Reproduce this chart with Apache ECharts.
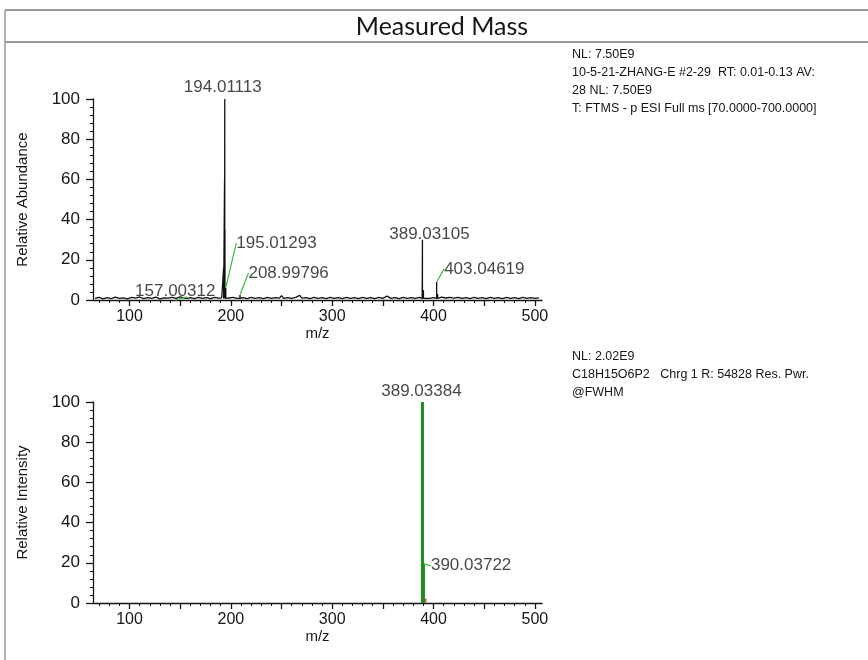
<!DOCTYPE html>
<html>
<head>
<meta charset="utf-8">
<script src="https://cdn.jsdelivr.net/npm/echarts@6/dist/echarts.min.js"></script>
<style>
  html, body { margin: 0; padding: 0; background: #fff; }
  #chart { width: 868px; height: 660px; }
</style>
</head>
<body>
<div id="chart"></div>
<script>
// ---- Measured spectrum (upper panel) ----
// baseline noise, [m/z, relative abundance]
const baselineTop = [
  [66,0.8],[70,1.3],[74,0.6],[78,1.2],[82,0.7],[86,1.4],[90,0.8],[94,1.1],[98,0.6],[102,1.3],
  [106,0.9],[110,1.5],[114,0.7],[118,1.2],[122,0.8],[126,1.4],[130,0.6],[134,1.1],[138,0.9],[142,1.3],
  [146,0.8],[150,1.6],[154,1.0],[160,1.2],[164,0.7],[168,1.3],[172,0.8],[176,1.2],[180,0.7],[184,1.3],
  [188,0.9],[191,1.1],[198,1.0],[202,1.3],[206,0.8],[212,1.2],[216,0.7],[220,1.3],[224,0.8],[228,1.2],
  [232,0.7],[236,1.3],[240,0.8],[244,1.2],[248,0.9],[250,2.2],[252,0.8],[256,1.2],[260,0.8],[264,1.3],
  [268,2.3],[270,0.9],[274,1.2],[278,0.7],[282,1.3],[286,0.8],[290,1.2],[294,0.7],[298,1.3],[302,0.8],
  [306,1.2],[310,0.7],[314,1.3],[318,0.8],[322,1.2],[326,0.7],[330,1.3],[334,0.8],[338,1.2],[342,0.7],
  [346,1.3],[350,0.8],[354,1.9],[358,0.8],[362,1.2],[366,0.7],[370,1.3],[374,0.8],[378,1.2],[382,0.8],
  [386,1.3],[392,1.2],[396,0.8],[400,1.2],[408,1.4],[412,1.0],[416,1.3],[420,0.9],[424,1.3],[428,0.8],
  [432,1.2],[436,0.7],[440,1.3],[444,0.8],[448,1.2],[452,0.7],[456,1.3],[460,0.8],[464,1.2],[468,0.7],
  [472,1.3],[476,0.8],[480,1.2],[484,0.7],[488,1.3],[492,0.8],[496,1.2],[500,0.8],[504,1.1]
];
// centroid peaks of the measured spectrum
const peakMzTop = [157.00312, 192.9, 193.8, 194.01113, 194.2, 195.01293, 208.99796, 388.8, 389.03105, 390.03, 403.04619, 404.05];
const peakAbTop = [1.6, 16, 60, 100, 35, 6, 2.5, 7, 30, 5, 9, 3];
// peaks carrying an m/z label
const labelMzTop = [194.01113, 195.01293, 208.99796, 157.00312, 389.03105, 403.04619];

// ---- Theoretical isotope pattern (lower panel) ----
const peakMzBottom = [389.03384, 390.03722];
const peakAbBottom = [100, 19.5];
const minorMzBottom = [391.03];
const minorAbBottom = [1.2];

// ---- Axis ticks ----
const xLabelValues = [100, 200, 300, 400, 500];
const xMajorTicks = [100, 150, 200, 250, 300, 350, 400, 450, 500];
const xMinorTicks = [70, 80, 90, 110, 120, 130, 140, 160, 170, 180, 190, 210, 220, 230, 240, 260, 270, 280, 290,
  310, 320, 330, 340, 360, 370, 380, 390, 410, 420, 430, 440, 460, 470, 480, 490];
const yTicks = [0, 20, 40, 60, 80, 100];

// ---- Header texts ----
const titleText = 'Measured Mass';
const infoTop = ['NL: 7.50E9', '10-5-21-ZHANG-E #2-29  RT: 0.01-0.13 AV:', '28 NL: 7.50E9', 'T: FTMS - p ESI Full ms [70.0000-700.0000]'];
const infoBottom = ['NL: 2.02E9', 'C18H15O6P2   Chrg 1 R: 54828 Res. Pwr.', '@FWHM'];

// label placement (pixel shifts relative to the peak apex)
const labelPlaceTop = {
  '194.01113': { position: 'top', distance: 3, dx: -2, dy: 0, line: false },
  '195.01293': { position: 'right', distance: 5, dx: 5, dy: -45, line: true },
  '208.99796': { position: 'right', distance: 5, dx: 3, dy: -22, line: true },
  '157.00312': { position: 'top', distance: 2, dx: -12, dy: 6, line: true },
  '389.03105': { position: 'top', distance: 2, dx: 7, dy: 6, line: false },
  '403.04619': { position: 'right', distance: 5, dx: 2, dy: -13, line: true }
};
const labelPlaceBottom = {
  '389.03384': { position: 'top', distance: 3, dx: -1, dy: 1, line: false },
  '390.03722': { position: 'right', distance: 1, dx: 6, dy: 2, line: true }
};

// stick spectrum: each peak becomes a vertical stroke rising out of the baseline
function stickData(baseline, mzs, abs, base) {
  const pts = baseline.slice();
  mzs.forEach((mz, i) => {
    pts.push([mz - 0.001, base], [mz, abs[i]], [mz + 0.001, base]);
  });
  pts.sort((a, b) => a[0] - b[0]);
  return pts;
}

const topLine = stickData(baselineTop, peakMzTop, peakAbTop, 0.8);
const bottomSticks = [];
peakMzBottom.forEach((mz, i) => {
  bottomSticks.push([mz, 0], [mz, peakAbBottom[i]], [mz, 0], null);
});

const topLabelData = labelMzTop.map(mz => {
  const i = peakMzTop.indexOf(mz);
  return { value: [mz, peakAbTop[i]], name: mz.toFixed(5) };
});
const bottomLabelData = peakMzBottom.map((mz, i) => ({ value: [mz, peakAbBottom[i]], name: mz.toFixed(5) }));

const FONT = '"Liberation Sans", Arial, sans-serif';
const INK = '#161616';
const GRID_LEFT = 93, GRID_W = 449, GRID_H = 201;

function mainX(gridIndex) {
  return {
    type: 'value', gridIndex, min: 64, max: 507, position: 'bottom',
    name: 'm/z', nameLocation: 'middle', nameGap: 25,
    nameTextStyle: { fontFamily: FONT, fontSize: 15, color: INK },
    axisLine: { show: true, onZero: false, lineStyle: { color: INK, width: 1.3 } },
    axisTick: { show: true, customValues: xMajorTicks, length: 6, lineStyle: { color: INK, width: 1.3 } },
    axisLabel: { customValues: xLabelValues, fontFamily: FONT, fontSize: 16, color: INK, margin: 9 },
    splitLine: { show: false }
  };
}
function minorX(gridIndex) {
  return {
    type: 'value', gridIndex, min: 64, max: 507, position: 'bottom',
    axisLine: { show: false },
    axisTick: { show: true, customValues: xMinorTicks, length: 3, lineStyle: { color: INK, width: 1 } },
    axisLabel: { show: false },
    splitLine: { show: false }
  };
}
function yAxis(gridIndex, name) {
  return {
    type: 'value', gridIndex, min: 0, max: 100, interval: 20,
    name, nameLocation: 'middle', nameGap: 63, nameRotate: 90,
    nameTextStyle: { fontFamily: FONT, fontSize: 15, color: INK },
    axisLine: { show: true, lineStyle: { color: INK, width: 1.3 } },
    axisTick: { show: true, length: 7, lineStyle: { color: INK, width: 1.3 } },
    minorTick: { show: true, splitNumber: 5, length: 3, lineStyle: { color: INK, width: 1 } },
    axisLabel: { fontFamily: FONT, fontSize: 17, color: INK, margin: 13,
      customValues: yTicks },
    splitLine: { show: false }
  };
}

function labelSeries(data, place, xIdx, yIdx) {
  return {
    type: 'scatter', xAxisIndex: xIdx, yAxisIndex: yIdx,
    symbolSize: 1, itemStyle: { color: 'rgba(0,0,0,0)' },
    silent: true, z: 5,
    data: data.map(d => {
      const p = place[d.name];
      return Object.assign({}, d, {
        label: { position: p.position, distance: p.distance },
        labelLine: { show: p.line }
      });
    }),
    label: {
      show: true, formatter: p => p.name,
      fontFamily: FONT, fontSize: 17, color: INK
    },
    labelLine: { show: true, lineStyle: { color: '#3dbb3d', width: 1.2 } },
    labelLayout: params => {
      const name = data[params.dataIndex].name;
      const p = place[name];
      return { dx: p.dx, dy: p.dy };
    }
  };
}

const graphics = [
  { type: 'line', shape: { x1: 5, y1: 10, x2: 868, y2: 10 }, style: { stroke: '#9a9a9a', lineWidth: 2 } },
  { type: 'line', shape: { x1: 5, y1: 42, x2: 868, y2: 42 }, style: { stroke: '#9a9a9a', lineWidth: 2 } },
  { type: 'line', shape: { x1: 5, y1: 10, x2: 5, y2: 660 }, style: { stroke: '#9a9a9a', lineWidth: 1.5 } },
  { type: 'text', x: 442, y: 27,
    style: { text: titleText, font: '25px Lato, "Open Sans", sans-serif', fill: INK,
      textAlign: 'center', textVerticalAlign: 'middle' } }
];
infoTop.forEach((t, i) => graphics.push({ type: 'text', x: 572, y: 55 + i * 17.7,
  style: { text: t, font: '12.5px ' + FONT, fill: INK, textVerticalAlign: 'middle' } }));
infoBottom.forEach((t, i) => graphics.push({ type: 'text', x: 572, y: 357 + i * 18,
  style: { text: t, font: '12.5px ' + FONT, fill: INK, textVerticalAlign: 'middle' } }));

const chart = echarts.init(document.getElementById('chart'), null, { renderer: 'canvas' });
chart.setOption({
  animation: false,
  backgroundColor: '#fff',
  graphic: graphics,
  grid: [
    { left: GRID_LEFT, top: 99, width: GRID_W, height: GRID_H },
    { left: GRID_LEFT, top: 402, width: GRID_W, height: GRID_H }
  ],
  xAxis: [mainX(0), minorX(0), mainX(1), minorX(1)],
  yAxis: [yAxis(0, 'Relative Abundance'), yAxis(1, 'Relative Intensity')],
  series: [
    {
      type: 'line', xAxisIndex: 0, yAxisIndex: 0, data: topLine,
      symbol: 'none', silent: true,
      lineStyle: { color: '#111', width: 1.3, join: 'bevel' }
    },
    labelSeries(topLabelData, labelPlaceTop, 0, 0),
    {
      type: 'line', xAxisIndex: 2, yAxisIndex: 1, data: bottomSticks,
      symbol: 'none', silent: true, connectNulls: false,
      lineStyle: { color: '#1f8a1f', width: 3, join: 'bevel', cap: 'butt' }
    },
    {
      type: 'scatter', xAxisIndex: 2, yAxisIndex: 1, silent: true,
      data: minorMzBottom.map((mz, i) => [mz, minorAbBottom[i]]),
      symbol: 'rect', symbolSize: 4, itemStyle: { color: '#e02020' }
    },
    labelSeries(bottomLabelData, labelPlaceBottom, 2, 1)
  ]
});
</script>
</body>
</html>
